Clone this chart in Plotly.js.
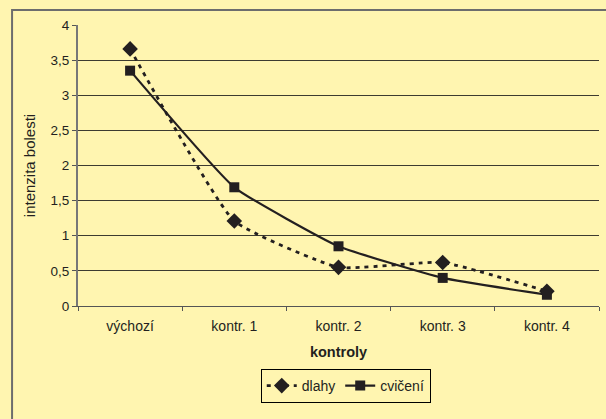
<!DOCTYPE html>
<html>
<head>
<meta charset="utf-8">
<script src="https://cdn.plot.ly/plotly-3.0.1.min.js"></script>
<style>html,body{margin:0;padding:0;background:#fff5b0;}#chart{width:606px;height:419px;}</style>
</head>
<body>
<div id="chart"></div>
<script>
const categories = ["výchozí", "kontr. 1", "kontr. 2", "kontr. 3", "kontr. 4"];
const dlahy = [3.66, 1.21, 0.55, 0.62, 0.21];
const cviceni = [3.35, 1.69, 0.85, 0.40, 0.16];
const yTitle = "intenzita bolesti";
const xTitle = "kontroly";

const ink = "#231f20";
const bg = "#fff5b0";

const traces = [
  {
    x: categories, y: dlahy, name: "dlahy", type: "scatter", mode: "lines+markers",
    line: {color: ink, width: 2.8, dash: "4px,5px", shape: "spline", smoothing: 0.4},
    marker: {symbol: "diamond", size: 12, color: ink}
  },
  {
    x: categories, y: cviceni, name: "cvičení", type: "scatter", mode: "lines+markers",
    line: {color: ink, width: 2.2, shape: "spline", smoothing: 0.4},
    marker: {symbol: "square", size: 10, color: ink}
  }
];

const W = 606, H = 419, L = 78, R = 6.5, T = 25, B = 113;
const pw = W - L - R, ph = H - T - B;
const px = v => (v - L) / pw;
const py = v => (H - B - v) / ph;

const layout = {
  width: W, height: H,
  paper_bgcolor: bg, plot_bgcolor: bg,
  separators: ",.",
  font: {family: "Liberation Sans, Arial, sans-serif", color: ink, size: 14},
  margin: {l: L, r: R, t: T, b: B, pad: 0},
  showlegend: true,
  legend: {
    orientation: "h", x: px(346), xanchor: "center", y: py(369), yanchor: "top",
    bordercolor: "#000", borderwidth: 1, bgcolor: "rgba(0,0,0,0)",
    font: {size: 14, color: ink}, itemwidth: 30, tracegroupgap: 0
  },
  xaxis: {
    type: "category", range: [-0.5, 4.5], tickson: "boundaries", ticks: "outside", ticklen: 4, tickcolor: "#555",
    showgrid: false, showline: true, linecolor: "#555", linewidth: 1,
    tickfont: {size: 14, color: ink}, automargin: false, ticklabelstandoff: 7,
    title: {text: xTitle, font: {size: 14.5, color: ink, weight: "bold"}, standoff: 14}
  },
  yaxis: {
    range: [0, 4], dtick: 0.5, tick0: 0, ticks: "outside", ticklen: 4, tickcolor: "#555",
    showgrid: true, gridcolor: "#3d3b30", gridwidth: 1, zeroline: false,
    showline: true, linecolor: "#777", linewidth: 2,
    tickfont: {size: 13.5, color: ink}, automargin: false,
    title: {text: yTitle, font: {size: 15, color: ink}, standoff: 11}
  },
  shapes: [
    {type: "rect", xref: "paper", yref: "paper", x0: px(12), x1: px(700), y0: py(10), y1: py(600),
     line: {color: "#6d6d6d", width: 2}, fillcolor: "rgba(0,0,0,0)", layer: "below"}
  ]
};

Plotly.newPlot("chart", traces, layout, {displayModeBar: false, staticPlot: true});
</script>
</body>
</html>
